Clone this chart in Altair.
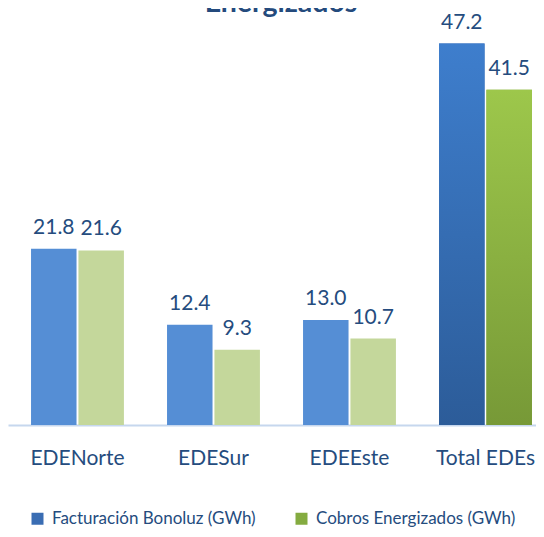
import altair as alt
import pandas as pd

categories = ["EDENorte", "EDESur", "EDEEste", "Total EDEs"]
series = ["Facturación Bonoluz (GWh)", "Cobros Energizados (GWh)"]
facturacion = [21.8, 12.4, 13.0, 47.2]
cobros = [21.6, 9.3, 10.7, 41.5]
title_text = "Energizados"

light_colors = {series[0]: "#558ED5", series[1]: "#C4D79B"}
legend_colors = ["#3A6DB3", "#84AB40"]

rows = []
for c, f, k in zip(categories, facturacion, cobros):
    rows.append({"cat": c, "serie": series[0], "value": f, "fill": light_colors[series[0]]})
    rows.append({"cat": c, "serie": series[1], "value": k, "fill": light_colors[series[1]]})
df = pd.DataFrame(rows)

FONT = "Lato"
TXT = "#254C7E"

x_enc = alt.X("cat:N", sort=categories,
              scale=alt.Scale(paddingInner=0.317, paddingOuter=0.0996, align=0.85),
              axis=alt.Axis(title=None, labelAngle=0, ticks=False, labelFont=FONT,
                            labelFontSize=21, labelColor=TXT, labelPadding=22,
                            domainColor="#C6D7EE", domainWidth=2))
xo_enc = alt.XOffset("serie:N", sort=series, scale=alt.Scale(domain=series, paddingInner=0.04))
y_enc = alt.Y("value:Q", scale=alt.Scale(domain=[0, 50]), axis=None)

base = alt.Chart(df).encode(x=x_enc, xOffset=xo_enc, y=y_enc)

legend_layer = base.mark_bar().encode(
    color=alt.Color("serie:N", sort=series,
                    scale=alt.Scale(domain=series, range=legend_colors),
                    legend=alt.Legend(title=None, orient="none", legendX=21, legendY=489,
                                      direction="horizontal", symbolType="square",
                                      symbolSize=144, symbolStrokeWidth=0,
                                      labelFont=FONT, labelFontSize=17, labelColor=TXT,
                                      labelLimit=400, labelOffset=6, columnPadding=37,
                                      padding=0))
).transform_filter(alt.datum.cat == "Total EDEs")

regular = base.mark_bar().encode(
    color=alt.Color("fill:N", scale=None)
).transform_filter(alt.datum.cat != "Total EDEs")

grad_blue = alt.Gradient(gradient="linear", x1=0, x2=0, y1=0, y2=1,
                         stops=[alt.GradientStop(color="#3E7ECD", offset=0),
                                alt.GradientStop(color="#2C5C99", offset=1)])
grad_green = alt.Gradient(gradient="linear", x1=0, x2=0, y1=0, y2=1,
                          stops=[alt.GradientStop(color="#9DC74B", offset=0),
                                 alt.GradientStop(color="#779937", offset=1)])

total_blue = base.mark_bar(color=grad_blue).transform_filter(
    (alt.datum.cat == "Total EDEs") & (alt.datum.serie == series[0]))
total_green = base.mark_bar(color=grad_green).transform_filter(
    (alt.datum.cat == "Total EDEs") & (alt.datum.serie == series[1]))

labels = base.mark_text(font=FONT, fontSize=21, color=TXT, baseline="alphabetic",
                        align="center", dy=-15).encode(
    text=alt.Text("value:Q", format=".1f"))

title = alt.Chart(pd.DataFrame({"t": [title_text]})).mark_text(
    font=FONT, fontSize=28.5, fontWeight="bold", color="#244A7C",
    baseline="alphabetic", align="center").encode(
    x=alt.value(273), y=alt.value(-9), text="t:N")

chart = alt.layer(legend_layer, regular, total_blue, total_green, labels, title).properties(
    width=528, height=404,
    autosize=alt.AutoSizeParams(type="none"),
    padding={"left": 0, "top": 13, "right": 0, "bottom": 104},
    background="white",
).configure_view(stroke=None)

chart.save("out.html", embed_options={"renderer": "svg", "actions": False})
